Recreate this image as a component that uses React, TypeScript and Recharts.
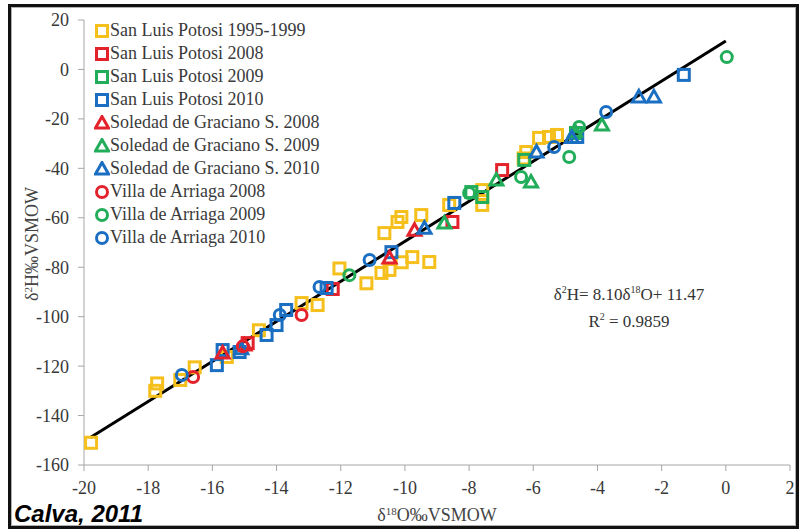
import React from "react";
import {
  ScatterChart,
  Scatter,
  XAxis,
  YAxis,
  ReferenceLine,
} from "recharts";

// δ18O / δ2H pairs per site and year (‰ VSMOW)
const sanLuis9599 = [
  { x: -19.78, y: -151 }, { x: -17.72, y: -127 }, { x: -17.78, y: -130 },
  { x: -17.0, y: -125.6 }, { x: -16.55, y: -120.5 }, { x: -15.55, y: -116.3 },
  { x: -14.55, y: -105.5 }, { x: -13.22, y: -94.5 }, { x: -12.72, y: -95.3 },
  { x: -12.04, y: -80.5 }, { x: -11.2, y: -86.5 }, { x: -10.73, y: -82.3 },
  { x: -10.48, y: -81.1 }, { x: -10.1, y: -78 }, { x: -9.77, y: -75.9 },
  { x: -9.24, y: -77.9 }, { x: -10.64, y: -66.2 }, { x: -10.23, y: -61.7 },
  { x: -10.11, y: -59.7 }, { x: -9.49, y: -58.9 }, { x: -8.62, y: -54.8 },
  { x: -7.59, y: -48.8 }, { x: -7.59, y: -54.8 }, { x: -6.3, y: -36 },
  { x: -6.22, y: -33.4 }, { x: -5.82, y: -27.7 }, { x: -5.51, y: -27.3 },
  { x: -5.26, y: -26.5 },
];
const sanLuis2008 = [
  { x: -14.9, y: -110.7 }, { x: -12.25, y: -88.8 }, { x: -8.52, y: -61.7 },
  { x: -6.97, y: -40.7 },
];
const sanLuis2009 = [
  { x: -7.93, y: -49.6 }, { x: -7.59, y: -51.6 }, { x: -6.28, y: -36.6 },
  { x: -4.67, y: -25.7 },
];
const sanLuis2010 = [
  { x: -15.86, y: -119.6 }, { x: -15.68, y: -113.5 }, { x: -15.15, y: -114.3 },
  { x: -14.31, y: -107.4 }, { x: -14.0, y: -103.4 }, { x: -13.7, y: -97.3 },
  { x: -12.44, y: -88.4 }, { x: -10.42, y: -73.9 }, { x: -8.46, y: -54 },
  { x: -4.63, y: -27.3 }, { x: -1.31, y: -2.2 },
];
const soledad2008 = [
  { x: -15.68, y: -114.7 }, { x: -15.0, y: -111.5 }, { x: -10.48, y: -76.3 },
  { x: -9.7, y: -65 },
];
const soledad2009 = [
  { x: -8.77, y: -62.1 }, { x: -7.15, y: -44.7 }, { x: -6.07, y: -45.5 },
  { x: -4.7, y: -25 }, { x: -3.86, y: -22.5 },
];
const soledad2010 = [
  { x: -15.1, y: -113 }, { x: -9.39, y: -64.2 }, { x: -5.9, y: -33.4 },
  { x: -4.8, y: -27.5 }, { x: -2.71, y: -11.1 }, { x: -2.24, y: -11.1 },
];
const villa2008 = [
  { x: -16.6, y: -124.4 }, { x: -15.05, y: -112 }, { x: -13.22, y: -99.3 },
];
const villa2009 = [
  { x: -11.73, y: -83.2 }, { x: -8.0, y: -50 }, { x: -6.38, y: -43.5 },
  { x: -4.88, y: -35.4 }, { x: -4.57, y: -23.3 }, { x: 0.03, y: 5 },
];
const villa2010 = [
  { x: -16.95, y: -123.6 }, { x: -13.9, y: -99.3 }, { x: -12.66, y: -88 },
  { x: -11.1, y: -77.1 }, { x: -5.35, y: -31.4 }, { x: -3.73, y: -17.2 },
];

const xTicks = [-20, -18, -16, -14, -12, -10, -8, -6, -4, -2, 0, 2];
const yTicks = [20, 0, -20, -40, -60, -80, -100, -120, -140, -160];

// regression line: δ2H = 8.10 δ18O + 11.47
const slope = 8.1;
const intercept = 11.47;
const fitRange = [-19.8, 0];

const YELLOW = "#f5bf1c";
const RED = "#e4222b";
const GREEN = "#22ad5a";
const BLUE = "#1b6fc2";

type Kind = "square" | "triangle" | "circle";

const series: { name: string; color: string; kind: Kind; data: { x: number; y: number }[] }[] = [
  { name: "San Luis Potosi 1995-1999", color: YELLOW, kind: "square", data: sanLuis9599 },
  { name: "San Luis Potosi 2008", color: RED, kind: "square", data: sanLuis2008 },
  { name: "San Luis Potosi 2009", color: GREEN, kind: "square", data: sanLuis2009 },
  { name: "San Luis Potosi 2010", color: BLUE, kind: "square", data: sanLuis2010 },
  { name: "Soledad de Graciano S. 2008", color: RED, kind: "triangle", data: soledad2008 },
  { name: "Soledad de Graciano S. 2009", color: GREEN, kind: "triangle", data: soledad2009 },
  { name: "Soledad de Graciano S. 2010", color: BLUE, kind: "triangle", data: soledad2010 },
  { name: "Villa de Arriaga 2008", color: RED, kind: "circle", data: villa2008 },
  { name: "Villa de Arriaga 2009", color: GREEN, kind: "circle", data: villa2009 },
  { name: "Villa de Arriaga 2010", color: BLUE, kind: "circle", data: villa2010 },
];

const SERIF = "'Liberation Serif', 'Times New Roman', serif";

function Marker({ kind, color, cx, cy }: { kind: Kind; color: string; cx: number; cy: number }) {
  const common = { fill: "none", stroke: color, strokeWidth: 3 };
  if (kind === "square") return <rect x={cx - 5.5} y={cy - 5.5} width={11} height={11} {...common} />;
  if (kind === "circle") return <circle cx={cx} cy={cy} r={5.5} {...common} />;
  return (
    <polygon
      points={`${cx},${cy - 6.5} ${cx + 6.5},${cy + 5} ${cx - 6.5},${cy + 5}`}
      strokeLinejoin="miter"
      {...common}
    />
  );
}

const makeShape = (kind: Kind, color: string) => (p: any) =>
  <Marker kind={kind} color={color} cx={p.cx} cy={p.cy} />;

// legend sits inside the plot area, top-left
function LegendBox() {
  return (
    <div style={{ position: "absolute", left: 94, top: 19, fontFamily: SERIF, fontSize: 18,
      color: "#3a3a3a", whiteSpace: "nowrap" }}>
      {series.map((s) => (
        <div key={s.name} style={{ display: "flex", alignItems: "center", height: 23 }}>
          <svg width={16} height={16}>
            <Marker kind={s.kind} color={s.color} cx={8} cy={8} />
          </svg>
          <span>{s.name}</span>
        </div>
      ))}
    </div>
  );
}

const YTitle = (p: any) => {
  const vb = p.viewBox;
  const x = vb.x + 38;
  const y = 244;
  return (
    <text x={x} y={y} transform={`rotate(-90, ${x}, ${y})`} textAnchor="middle"
      fontFamily={SERIF} fontSize={18} fill="#444">
      δ<tspan dy={-6} fontSize={11}>2</tspan>
      <tspan dy={6}>H‰VSMOW</tspan>
    </text>
  );
};

const XTitle = (p: any) => {
  const vb = p.viewBox;
  return (
    <text x={vb.x + vb.width / 2} y={521} textAnchor="middle"
      fontFamily={SERIF} fontSize={18} fill="#444">
      δ<tspan dy={-6} fontSize={11}>18</tspan>
      <tspan dy={6}>O‰VSMOW</tspan>
    </text>
  );
};

const tickStyle = { fontFamily: SERIF, fontSize: 18, fill: "#383838" };

export default function App() {
  return (
    <div style={{ position: "absolute", left: 0, top: 0, width: 802, height: 531, background: "#fff" }}>
      <ScatterChart width={802} height={531} margin={{ top: 20, right: 12, bottom: 0, left: 0 }}>
        <XAxis
          type="number"
          dataKey="x"
          domain={[-20, 2]}
          ticks={xTicks}
          interval={0}
          height={66}
          stroke="#a6a6a6"
          tickSize={6}
          tickMargin={10}
          tick={tickStyle}
          label={XTitle}
        />
        <YAxis
          type="number"
          dataKey="y"
          domain={[-160, 20]}
          ticks={yTicks}
          interval={0}
          width={84}
          stroke="#a6a6a6"
          tickSize={6}
          tickMargin={9}
          tick={tickStyle}
          label={YTitle}
        />
        {series.map((s) => (
          <Scatter
            key={s.name}
            name={s.name}
            data={s.data}
            fill={s.color}
            shape={makeShape(s.kind, s.color)}
            isAnimationActive={false}
          />
        ))}
        <ReferenceLine
          segment={[
            { x: fitRange[0], y: slope * fitRange[0] + intercept },
            { x: fitRange[1], y: slope * fitRange[1] + intercept },
          ]}
          stroke="#000"
          strokeWidth={3}
          ifOverflow="visible"
        />
      </ScatterChart>

      <LegendBox />

      <div style={{ position: "absolute", left: 479, top: 279, width: 300, textAlign: "center",
        fontFamily: SERIF, fontSize: 17, color: "#333", lineHeight: "22px" }}>
        <div>
          δ<sup style={{ fontSize: 10 }}>2</sup>H= 8.10δ<sup style={{ fontSize: 10 }}>18</sup>O+ 11.47
        </div>
        <div>
          R<sup style={{ fontSize: 10 }}>2</sup> = 0.9859
        </div>
      </div>

      <div style={{ position: "absolute", left: 14, top: 502, fontFamily: "'Liberation Sans', Arial, sans-serif",
        fontWeight: "bold", fontStyle: "italic", fontSize: 24, lineHeight: "24px", color: "#000" }}>
        Calva, 2011
      </div>

      <div style={{ position: "absolute", left: 8, top: 4, width: 785, height: 519,
        border: "3px solid #111", boxShadow: "inset 0 0 0 1px #b0b0b0", pointerEvents: "none" }} />
    </div>
  );
}
